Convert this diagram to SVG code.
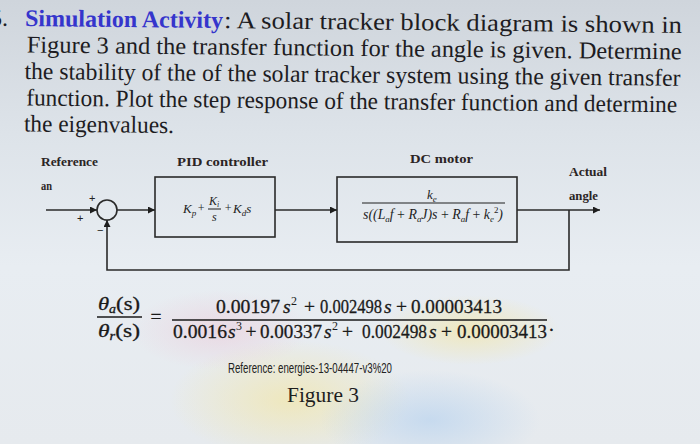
<svg xmlns="http://www.w3.org/2000/svg" width="700" height="444" viewBox="0 0 700 444">
<defs>
<linearGradient id="bg" x1="0" y1="0" x2="0" y2="1">
<stop offset="0" stop-color="#cfd5dc"/>
<stop offset="0.3" stop-color="#dde3e9"/>
<stop offset="0.6" stop-color="#e8edf2"/>
<stop offset="1" stop-color="#e6eaee"/>
</linearGradient>
<radialGradient id="tintY" cx="0.5" cy="0.5" r="0.5">
<stop offset="0" stop-color="#f2e6a8" stop-opacity="0.7"/>
<stop offset="1" stop-color="#f2e6a8" stop-opacity="0"/>
</radialGradient>
<radialGradient id="tintB" cx="0.5" cy="0.5" r="0.5">
<stop offset="0" stop-color="#b9d3ee" stop-opacity="0.7"/>
<stop offset="1" stop-color="#b9d3ee" stop-opacity="0"/>
</radialGradient>
<radialGradient id="tintP" cx="0.5" cy="0.5" r="0.5">
<stop offset="0" stop-color="#ecc6d6" stop-opacity="0.5"/>
<stop offset="1" stop-color="#ecc6d6" stop-opacity="0"/>
</radialGradient>
<marker id="arr" viewBox="0 0 10 10" refX="10" refY="5" markerWidth="9" markerHeight="7" markerUnits="userSpaceOnUse" orient="auto">
<path d="M0,0 L10,5 L0,10 z" fill="#1e1e1e"/>
</marker>
</defs>
<style>
.body{font-family:"Liberation Serif","Times New Roman",serif;font-size:24px;fill:#1d1c22}
.title{font-family:"Liberation Serif","Times New Roman",serif;font-size:24px;font-weight:bold;fill:#3535cc}
.lbl{font-family:"Liberation Serif","Times New Roman",serif;font-size:12.5px;font-weight:bold;fill:#2b2424}
.sign{font-family:"Liberation Sans",Arial,sans-serif;font-size:11px;fill:#222}
.box{fill:none;stroke:#2a2a2a;stroke-width:1.6}
.wire{fill:none;stroke:#2a2a2a;stroke-width:1.6}
.mi{font-family:"Liberation Serif","Times New Roman",serif;font-style:italic;fill:#1e1e1e}
.eq{font-family:"Liberation Serif","Times New Roman",serif;font-size:19.5px;fill:#1a1a1a;stroke:#1a1a1a;stroke-width:0.3}
.eqi{font-family:"Liberation Serif","Times New Roman",serif;font-size:19.5px;font-style:italic;fill:#1a1a1a;stroke:#1a1a1a;stroke-width:0.3}
.sup{font-family:"Liberation Serif","Times New Roman",serif;font-size:12px;fill:#1a1a1a}
.ref{font-family:"Liberation Sans",Arial,sans-serif;font-size:14px;fill:#222}
.fig{font-family:"Liberation Serif","Times New Roman",serif;font-size:22px;fill:#1e1e1e}
</style>
<rect width="700" height="444" fill="url(#bg)"/>
<ellipse cx="290" cy="400" rx="120" ry="60" fill="url(#tintY)"/>
<ellipse cx="430" cy="420" rx="110" ry="50" fill="url(#tintB)"/>
<ellipse cx="220" cy="330" rx="90" ry="40" fill="url(#tintP)"/>
<ellipse cx="470" cy="330" rx="90" ry="35" fill="url(#tintY)"/>

<g id="question" transform="rotate(0.6 25 26)">
<text class="body" x="-10" y="26">5.</text>
<text class="title" x="25" y="26" textLength="198" lengthAdjust="spacingAndGlyphs">Simulation Activity</text>
<text class="body" x="224" y="26" textLength="458" lengthAdjust="spacingAndGlyphs">: A solar tracker block diagram is shown in</text>
<text class="body" x="27" y="52.5" textLength="655" lengthAdjust="spacingAndGlyphs">Figure 3 and the transfer function for the angle is given. Determine</text>
<text class="body" x="25" y="79" textLength="656" lengthAdjust="spacingAndGlyphs">the stability of the of the solar tracker system using the given transfer</text>
<text class="body" x="27" y="105.5" textLength="651" lengthAdjust="spacingAndGlyphs">function. Plot the step response of the transfer function and determine</text>
<text class="body" x="25" y="131.5" textLength="150" lengthAdjust="spacingAndGlyphs">the eigenvalues.</text>
</g>

<g id="labels">
<text class="lbl" x="41" y="166" textLength="57" lengthAdjust="spacingAndGlyphs">Reference</text>
<text class="lbl" x="41" y="190" textLength="11" lengthAdjust="spacingAndGlyphs">an</text>
<text class="lbl" x="177" y="166" textLength="91" lengthAdjust="spacingAndGlyphs">PID controller</text>
<text class="lbl" x="410" y="163" textLength="63" lengthAdjust="spacingAndGlyphs">DC motor</text>
<text class="lbl" x="569" y="176" textLength="38" lengthAdjust="spacingAndGlyphs">Actual</text>
<text class="lbl" x="569" y="200" textLength="29" lengthAdjust="spacingAndGlyphs">angle</text>
</g>

<g id="sum">
<circle cx="107" cy="210" r="10" fill="none" stroke="#2a2a2a" stroke-width="1.6"/>
<text class="sign" x="89" y="202">+</text>
<text class="sign" x="77" y="222">+</text>
<text class="sign" x="97" y="234">−</text>
</g>

<g id="pid">
<rect class="box" x="155" y="177" width="120" height="60"/>
<text class="mi" x="183" y="213" font-size="13">K<tspan font-size="9" dy="3">p</tspan></text>
<text class="mi" x="197" y="212" font-size="12" font-style="normal">+</text>
<text class="mi" x="209" y="205" font-size="12">K<tspan font-size="8" dy="2">i</tspan></text>
<line x1="208" y1="209" x2="221" y2="209" stroke="#1e1e1e" stroke-width="1"/>
<text class="mi" x="212" y="221" font-size="12">s</text>
<text class="mi" x="224" y="212" font-size="12" font-style="normal">+</text>
<text class="mi" x="233" y="213" font-size="13">K<tspan font-size="9" dy="3">d</tspan><tspan dy="-3">s</tspan></text>
</g>

<g id="dcmotor">
<rect class="box" x="337" y="177" width="180" height="65"/>
<text class="mi" x="427" y="199" font-size="13">k<tspan font-size="9" dy="3">e</tspan></text>
<line x1="362" y1="203" x2="505" y2="203" stroke="#1e1e1e" stroke-width="1"/>
<text class="mi" x="363" y="219" font-size="14" textLength="140" lengthAdjust="spacingAndGlyphs">s((L<tspan font-size="9" dy="3">a</tspan><tspan dy="-3">f </tspan><tspan font-style="normal">+</tspan> R<tspan font-size="9" dy="3">a</tspan><tspan dy="-3">J)s </tspan><tspan font-style="normal">+</tspan> R<tspan font-size="9" dy="3">a</tspan><tspan dy="-3">f </tspan><tspan font-style="normal">+</tspan> k<tspan font-size="9" dy="3">e</tspan><tspan font-size="9" font-style="normal" dy="-9">2</tspan><tspan dy="6">)</tspan></text>
</g>

<g id="connectors">
<path class="wire" d="M46,210 H97" marker-end="url(#arr)"/>
<path class="wire" d="M117,210 H155" marker-end="url(#arr)"/>
<path class="wire" d="M275,210 H337" marker-end="url(#arr)"/>
<path class="wire" d="M517,210 H600" marker-end="url(#arr)"/>
<path class="wire" d="M569,210 V270 H107 V220" marker-end="url(#arr)"/>
</g>

<g id="equation">
<text class="eqi" x="98" y="310" textLength="42" lengthAdjust="spacingAndGlyphs">θ<tspan font-size="12" dy="3">a</tspan><tspan font-style="normal" dy="-3">(s)</tspan></text>
<line x1="97" y1="317" x2="142" y2="317" stroke="#1a1a1a" stroke-width="1.4"/>
<text class="eqi" x="98" y="337" textLength="42" lengthAdjust="spacingAndGlyphs">θ<tspan font-size="12" dy="3">r</tspan><tspan font-style="normal" dy="-3">(s)</tspan></text>
<text class="eq" x="156" y="323" text-anchor="middle">=</text>
<line x1="172" y1="320" x2="547" y2="320" stroke="#1a1a1a" stroke-width="1.4"/>
<text class="eq" x="216" y="313" textLength="64" lengthAdjust="spacingAndGlyphs">0.00197</text>
<text class="eqi" x="283" y="313">s</text>
<text class="sup" x="291" y="305">2</text>
<text class="eq" x="309.5" y="313" text-anchor="middle">+</text>
<text class="eq" x="320" y="313" textLength="62" lengthAdjust="spacingAndGlyphs">0.002498</text>
<text class="eqi" x="384" y="313">s</text>
<text class="eq" x="401.5" y="313" text-anchor="middle">+</text>
<text class="eq" x="411" y="313" textLength="91" lengthAdjust="spacingAndGlyphs">0.00003413</text>
<text class="eq" x="173" y="338" textLength="54" lengthAdjust="spacingAndGlyphs">0.0016</text>
<text class="eqi" x="228" y="338">s</text>
<text class="sup" x="236" y="330">3</text>
<text class="eq" x="251" y="338" text-anchor="middle">+</text>
<text class="eq" x="260" y="338" textLength="62" lengthAdjust="spacingAndGlyphs">0.00337</text>
<text class="eqi" x="324" y="338">s</text>
<text class="sup" x="332" y="330">2</text>
<text class="eq" x="347.5" y="338" text-anchor="middle">+</text>
<text class="eq" x="362" y="338" textLength="65" lengthAdjust="spacingAndGlyphs">0.002498</text>
<text class="eqi" x="429" y="338">s</text>
<text class="eq" x="446.5" y="338" text-anchor="middle">+</text>
<text class="eq" x="457" y="338" textLength="90" lengthAdjust="spacingAndGlyphs">0.00003413</text>
<text class="eq" x="549" y="331">.</text>
</g>

<g id="caption">
<text class="ref" x="228" y="373" textLength="164" lengthAdjust="spacingAndGlyphs">Reference: energies-13-04447-v3%20</text>
<text class="fig" x="287" y="402" textLength="72" lengthAdjust="spacingAndGlyphs">Figure 3</text>
</g>
</svg>
